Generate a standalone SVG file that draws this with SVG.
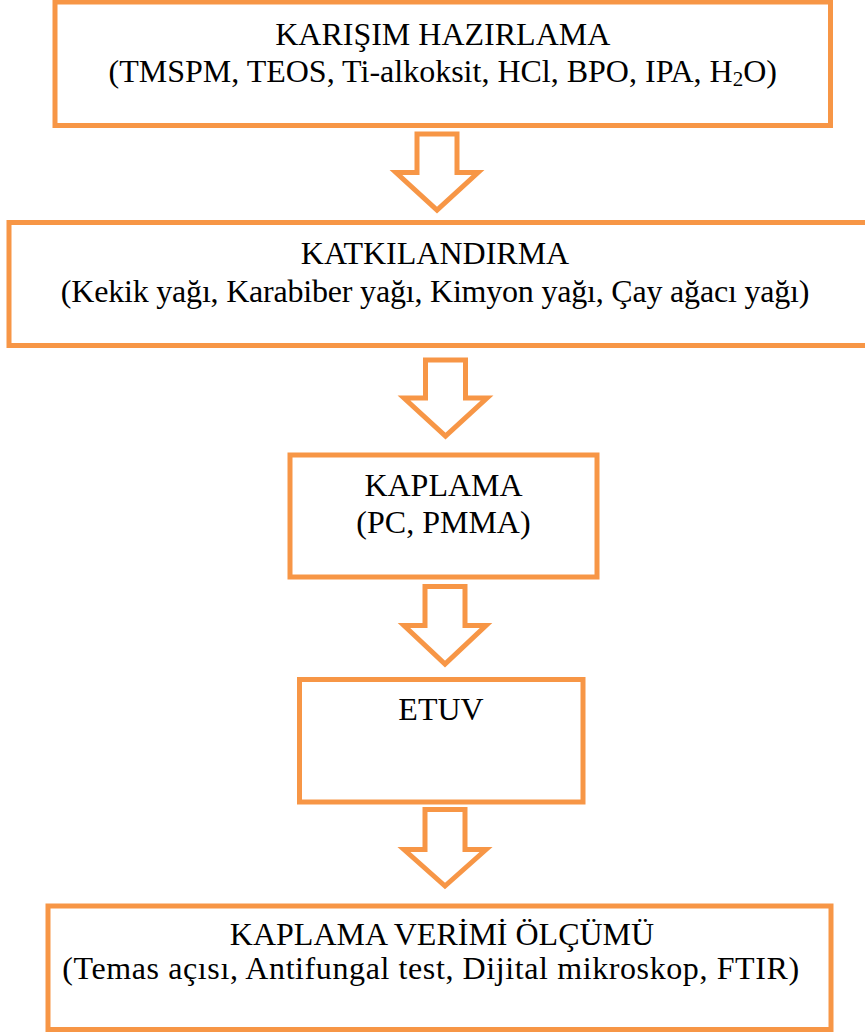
<svg xmlns="http://www.w3.org/2000/svg" width="865" height="1034" viewBox="0 0 865 1034">
<style>
.box{fill:#fff;stroke:#F79646;stroke-width:5}
.arr{fill:#fff;stroke:#F79646;stroke-width:5;stroke-linejoin:miter}
text{font-family:"Liberation Serif","Times New Roman",serif;font-size:32px;fill:#000;text-anchor:middle}
</style>
<rect width="865" height="1034" fill="#fff"/>
<g id="connectors">
<polygon class="arr" points="417,134 457,134 457,172.5 478,172.5 437,210 396,172.5 417,172.5"/>
<polygon class="arr" points="425.5,360 465.5,360 465.5,398 487,398 445.5,436 404,398 425.5,398"/>
<polygon class="arr" points="425,586.5 465,586.5 465,625.5 486,625.5 445,664 404,625.5 425,625.5"/>
<polygon class="arr" points="425,809.5 465,809.5 465,849.5 486,849.5 445,886 404,849.5 425,849.5"/>
</g>
<g id="n1">
<rect class="box" x="55" y="2" width="775.5" height="123.5"/>
<text x="442.75" y="45">KARIŞIM HAZIRLAMA</text>
<text x="442.75" y="82">(TMSPM, TEOS, Ti-alkoksit, HCl, BPO, IPA, H<tspan font-size="21px" dy="4">2</tspan><tspan dy="-4">O)</tspan></text>
</g>
<g id="n2">
<rect class="box" x="9" y="222.5" width="860" height="123"/>
<text x="435" y="264">KATKILANDIRMA</text>
<text x="435" y="302" letter-spacing="-0.2">(Kekik yağı, Karabiber yağı, Kimyon yağı, Çay ağacı yağı)</text>
</g>
<g id="n3">
<rect class="box" x="290" y="455" width="307" height="122"/>
<text x="443.5" y="496">KAPLAMA</text>
<text x="443.5" y="533">(PC, PMMA)</text>
</g>
<g id="n4">
<rect class="box" x="299.5" y="679.5" width="283.5" height="122.5"/>
<text x="441" y="720">ETUV</text>
</g>
<g id="n5">
<rect class="box" x="48" y="906" width="783" height="123.5"/>
<text x="442" y="945">KAPLAMA VERİMİ ÖLÇÜMÜ</text>
<text x="431" y="979" letter-spacing="0.6">(Temas açısı, Antifungal test, Dijital mikroskop, FTIR)</text>
</g>
</svg>
